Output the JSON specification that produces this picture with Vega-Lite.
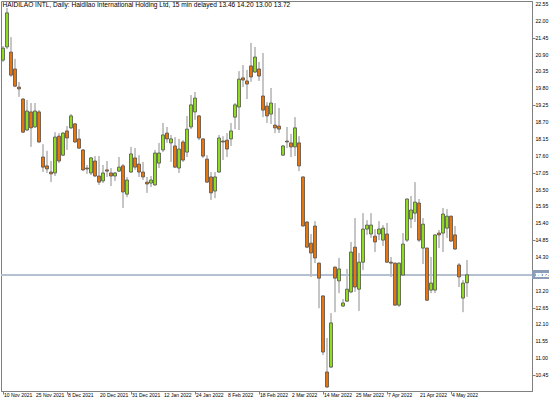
{
  "$schema": "https://vega.github.io/schema/vega-lite/v6.json",
  "width": 531,
  "height": 390,
  "padding": {"left": 0, "top": 1, "right": 0, "bottom": 0},
  "background": "#ffffff",
  "title": {"text": "HAIDILAO INTL, Daily:  Haidilao International Holding Ltd, 15 min delayed  13.46 14.20 13.00 13.72", "anchor": "start", "offset": -8, "fontSize": 6.6, "fontWeight": "normal", "font": "Liberation Sans", "color": "#000000", "dx": 2},
  "config": {
    "view": {"stroke": "#808080", "strokeWidth": 1},
    "axis": {"domainColor": "#808080", "tickColor": "#808080", "grid": false, "title": null, "labels": false}
  },
  "datasets": {
    "ohlc": [
    {"i":0,"o":20.72,"h":21.18,"l":20.66,"c":21.11},
    {"i":1,"o":21.15,"h":22.42,"l":21.08,"c":22.26},
    {"i":2,"o":20.98,"h":21.47,"l":20.17,"c":20.23},
    {"i":3,"o":20.43,"h":20.76,"l":19.84,"c":19.87},
    {"i":4,"o":19.84,"h":20.01,"l":19.52,"c":19.78},
    {"i":5,"o":19.45,"h":19.48,"l":18.34,"c":18.37},
    {"i":6,"o":18.44,"h":19.42,"l":18.41,"c":19.06},
    {"i":7,"o":19.03,"h":19.32,"l":17.89,"c":18.51},
    {"i":8,"o":18.54,"h":19.32,"l":18.51,"c":19.06},
    {"i":9,"o":19.03,"h":19.09,"l":18.02,"c":18.05},
    {"i":10,"o":17.56,"h":17.98,"l":17.07,"c":17.23},
    {"i":11,"o":17.27,"h":17.76,"l":17.04,"c":17.17},
    {"i":12,"o":17.07,"h":17.43,"l":16.74,"c":17.01},
    {"i":13,"o":17.04,"h":18.37,"l":16.94,"c":18.21},
    {"i":14,"o":18.24,"h":18.34,"l":17.36,"c":17.43},
    {"i":15,"o":17.62,"h":18.37,"l":17.59,"c":18.34},
    {"i":16,"o":18.41,"h":18.57,"l":17.79,"c":18.18},
    {"i":17,"o":18.51,"h":18.96,"l":18.47,"c":18.90},
    {"i":18,"o":18.64,"h":18.67,"l":18.02,"c":18.05},
    {"i":19,"o":18.15,"h":18.47,"l":17.82,"c":17.85},
    {"i":20,"o":17.79,"h":17.82,"l":17.10,"c":17.14},
    {"i":21,"o":17.20,"h":17.30,"l":17.01,"c":17.17},
    {"i":22,"o":17.04,"h":17.56,"l":16.97,"c":17.53},
    {"i":23,"o":17.43,"h":17.59,"l":16.91,"c":16.94},
    {"i":24,"o":16.94,"h":17.59,"l":16.65,"c":16.74},
    {"i":25,"o":16.78,"h":17.30,"l":16.71,"c":17.04},
    {"i":26,"o":17.14,"h":17.43,"l":16.91,"c":17.10},
    {"i":27,"o":17.04,"h":17.20,"l":16.61,"c":16.94},
    {"i":28,"o":16.94,"h":17.07,"l":16.78,"c":17.04},
    {"i":29,"o":17.10,"h":17.56,"l":17.07,"c":17.23},
    {"i":30,"o":17.27,"h":17.33,"l":15.90,"c":16.42},
    {"i":31,"o":16.35,"h":16.91,"l":16.25,"c":16.81},
    {"i":32,"o":17.07,"h":17.89,"l":17.04,"c":17.66},
    {"i":33,"o":17.53,"h":17.85,"l":17.14,"c":17.23},
    {"i":34,"o":17.33,"h":17.62,"l":16.91,"c":17.07},
    {"i":35,"o":17.07,"h":17.40,"l":16.81,"c":16.91},
    {"i":36,"o":16.74,"h":16.91,"l":16.39,"c":16.68},
    {"i":37,"o":16.71,"h":16.94,"l":16.58,"c":16.81},
    {"i":38,"o":16.65,"h":17.79,"l":16.62,"c":17.69},
    {"i":39,"o":17.36,"h":18.02,"l":17.20,"c":17.69},
    {"i":40,"o":17.79,"h":18.67,"l":17.72,"c":18.28},
    {"i":41,"o":18.34,"h":18.54,"l":18.02,"c":18.15},
    {"i":42,"o":18.02,"h":18.28,"l":17.40,"c":18.15},
    {"i":43,"o":17.92,"h":18.21,"l":17.20,"c":17.23},
    {"i":44,"o":17.20,"h":18.15,"l":17.04,"c":17.82},
    {"i":45,"o":18.05,"h":18.11,"l":17.40,"c":17.46},
    {"i":46,"o":17.72,"h":18.90,"l":17.56,"c":18.47},
    {"i":47,"o":18.54,"h":19.58,"l":18.47,"c":19.26},
    {"i":48,"o":19.03,"h":19.68,"l":18.77,"c":19.48},
    {"i":49,"o":18.90,"h":18.93,"l":18.11,"c":18.18},
    {"i":50,"o":18.15,"h":18.18,"l":17.53,"c":17.59},
    {"i":51,"o":17.49,"h":17.62,"l":16.72,"c":16.74},
    {"i":52,"o":16.91,"h":17.07,"l":16.16,"c":16.39},
    {"i":53,"o":16.45,"h":17.07,"l":16.22,"c":16.91},
    {"i":54,"o":17.07,"h":18.28,"l":17.05,"c":18.18},
    {"i":55,"o":18.08,"h":18.24,"l":17.46,"c":18.05},
    {"i":56,"o":18.11,"h":18.34,"l":17.56,"c":17.82},
    {"i":57,"o":18.15,"h":18.67,"l":17.92,"c":18.41},
    {"i":58,"o":18.86,"h":19.32,"l":18.47,"c":19.26},
    {"i":59,"o":19.19,"h":20.36,"l":18.44,"c":20.10},
    {"i":60,"o":20.14,"h":20.56,"l":19.84,"c":20.07},
    {"i":61,"o":20.04,"h":20.40,"l":19.45,"c":19.94},
    {"i":62,"o":20.53,"h":21.28,"l":20.01,"c":20.17},
    {"i":63,"o":20.33,"h":21.15,"l":20.30,"c":20.82},
    {"i":64,"o":20.43,"h":20.66,"l":20.04,"c":20.20},
    {"i":65,"o":19.55,"h":20.95,"l":18.86,"c":19.09},
    {"i":66,"o":19.22,"h":19.35,"l":18.67,"c":18.90},
    {"i":67,"o":18.96,"h":19.81,"l":18.64,"c":19.32},
    {"i":68,"o":18.60,"h":19.32,"l":18.34,"c":18.51},
    {"i":69,"o":18.57,"h":19.16,"l":18.34,"c":18.47},
    {"i":70,"o":17.62,"h":17.95,"l":17.60,"c":17.92},
    {"i":71,"o":18.08,"h":18.54,"l":17.85,"c":18.05},
    {"i":72,"o":18.02,"h":18.31,"l":17.56,"c":17.89},
    {"i":73,"o":17.89,"h":18.86,"l":17.59,"c":18.51},
    {"i":74,"o":18.02,"h":18.24,"l":17.10,"c":17.27},
    {"i":75,"o":16.91,"h":16.93,"l":15.29,"c":15.31},
    {"i":76,"o":15.44,"h":15.47,"l":14.59,"c":14.62},
    {"i":77,"o":14.75,"h":15.05,"l":13.65,"c":14.43},
    {"i":78,"o":15.31,"h":15.47,"l":14.10,"c":14.27},
    {"i":79,"o":14.10,"h":14.12,"l":12.63,"c":13.61},
    {"i":80,"o":13.03,"h":13.05,"l":11.10,"c":11.20},
    {"i":81,"o":10.55,"h":11.66,"l":10.03,"c":10.06},
    {"i":82,"o":10.71,"h":12.47,"l":10.68,"c":12.15},
    {"i":83,"o":13.97,"h":13.99,"l":12.50,"c":13.61},
    {"i":84,"o":13.52,"h":14.27,"l":13.12,"c":13.91},
    {"i":85,"o":12.70,"h":12.93,"l":12.67,"c":12.80},
    {"i":86,"o":12.86,"h":13.91,"l":12.84,"c":13.25},
    {"i":87,"o":13.16,"h":14.79,"l":13.12,"c":14.46},
    {"i":88,"o":14.62,"h":15.57,"l":13.16,"c":13.32},
    {"i":89,"o":13.25,"h":14.43,"l":12.54,"c":14.13},
    {"i":90,"o":14.13,"h":15.73,"l":13.87,"c":15.21},
    {"i":91,"o":15.21,"h":15.50,"l":15.02,"c":15.34},
    {"i":92,"o":15.05,"h":15.73,"l":14.92,"c":15.34},
    {"i":93,"o":14.98,"h":15.21,"l":14.46,"c":14.79},
    {"i":94,"o":15.05,"h":15.47,"l":14.85,"c":15.21},
    {"i":95,"o":14.85,"h":15.34,"l":14.66,"c":15.24},
    {"i":96,"o":15.05,"h":15.41,"l":14.11,"c":14.13},
    {"i":97,"o":14.13,"h":14.30,"l":13.65,"c":14.10},
    {"i":98,"o":14.10,"h":14.12,"l":12.71,"c":12.73},
    {"i":99,"o":12.73,"h":14.12,"l":12.67,"c":14.10},
    {"i":100,"o":13.71,"h":15.08,"l":13.69,"c":14.72},
    {"i":101,"o":14.85,"h":16.21,"l":14.79,"c":16.19},
    {"i":102,"o":15.54,"h":16.29,"l":15.24,"c":15.83},
    {"i":103,"o":15.73,"h":16.74,"l":15.44,"c":16.09},
    {"i":104,"o":16.06,"h":16.19,"l":14.79,"c":14.85},
    {"i":105,"o":14.59,"h":15.57,"l":14.07,"c":15.37},
    {"i":106,"o":14.59,"h":14.61,"l":12.87,"c":12.89},
    {"i":107,"o":13.22,"h":14.30,"l":13.12,"c":13.45},
    {"i":108,"o":13.22,"h":15.04,"l":13.12,"c":15.02},
    {"i":109,"o":15.08,"h":15.18,"l":14.59,"c":15.02},
    {"i":110,"o":15.08,"h":15.90,"l":14.46,"c":15.70},
    {"i":111,"o":15.24,"h":15.86,"l":14.92,"c":15.63},
    {"i":112,"o":15.63,"h":15.65,"l":14.79,"c":14.82},
    {"i":113,"o":15.02,"h":15.31,"l":14.53,"c":14.56},
    {"i":114,"o":14.04,"h":14.10,"l":13.32,"c":13.65},
    {"i":115,"o":12.96,"h":13.55,"l":12.50,"c":13.45},
    {"i":116,"o":13.46,"h":14.20,"l":13.00,"c":13.72}
    ],
    "xlabels": [
      {"i":0,"d":"10 Nov 2021"},{"i":8,"d":"25 Nov 2021"},{"i":16,"d":"8 Dec 2021"},{"i":24,"d":"20 Dec 2021"},
      {"i":32,"d":"31 Dec 2021"},{"i":40,"d":"12 Jan 2022"},{"i":48,"d":"24 Jan 2022"},{"i":56,"d":"8 Feb 2022"},
      {"i":64,"d":"18 Feb 2022"},{"i":72,"d":"2 Mar 2022"},{"i":80,"d":"14 Mar 2022"},{"i":88,"d":"25 Mar 2022"},
      {"i":96,"d":"7 Apr 2022"},{"i":104,"d":"21 Apr 2022"},{"i":112,"d":"4 May 2022"}
    ],
    "ylabels": [
      {"v":22.55},{"v":22.0},{"v":21.45},{"v":20.9},{"v":20.35},{"v":19.8},{"v":19.25},{"v":18.7},{"v":18.15},{"v":17.6},{"v":17.05},
      {"v":16.5},{"v":15.95},{"v":15.4},{"v":14.85},{"v":14.3},{"v":13.2},{"v":12.65},{"v":12.1},{"v":11.55},{"v":11.0},{"v":10.45}
    ]
  },
  "data": {"name": "ohlc"},
  "layer": [
    {
      "mark": {"type": "rule", "color": "#8c8c8c", "strokeWidth": 1},
      "encoding": {
        "x": {"field": "i", "type": "quantitative",
          "scale": {"domain": [-0.5, 132.25], "nice": false, "zero": false, "padding": 0},
          "axis": {"orient": "bottom", "values": [0,8,16,24,32,40,48,56,64,72,80,88,96,104,112], "tickSize": 3, "labels": false}},
        "y": {"field": "l", "type": "quantitative",
          "scale": {"domain": [9.93, 22.647], "nice": false, "zero": false, "padding": 0},
          "axis": {"orient": "right", "values": [22.55,22.0,21.45,20.9,20.35,19.8,19.25,18.7,18.15,17.6,17.05,16.5,15.95,15.4,14.85,14.3,13.75,13.2,12.65,12.1,11.55,11.0,10.45], "tickSize": 3, "labels": false}},
        "y2": {"field": "h"}
      }
    },
    {
      "mark": {"type": "rule", "color": "#b4c0d0", "strokeWidth": 1},
      "encoding": {"y": {"datum": 13.72, "type": "quantitative"}}
    },
    {
      "mark": {"type": "bar", "size": 3, "stroke": "#505050", "strokeWidth": 0.8},
      "encoding": {
        "x": {"field": "i", "type": "quantitative"},
        "y": {"field": "o", "type": "quantitative"},
        "y2": {"field": "c"},
        "fill": {"condition": {"test": "datum.c >= datum.o", "value": "#8fdc1e"}, "value": "#e8740c"}
      }
    },
    {
      "data": {"name": "xlabels"},
      "mark": {"type": "text", "font": "Liberation Sans", "fontSize": 5, "color": "#000000", "align": "left", "baseline": "top", "dx": 1, "dy": 2},
      "encoding": {
        "x": {"field": "i", "type": "quantitative"},
        "y": {"datum": 9.93, "type": "quantitative"},
        "text": {"field": "d"}
      }
    },
    {
      "data": {"name": "ylabels"},
      "mark": {"type": "text", "font": "Liberation Sans", "fontSize": 5.2, "color": "#000000", "align": "left", "baseline": "middle"},
      "encoding": {
        "x": {"datum": 133.1, "type": "quantitative"},
        "y": {"field": "v", "type": "quantitative"},
        "text": {"field": "v", "format": ".2f"}
      }
    },
    {
      "mark": {"type": "rect", "color": "#8d9db8", "opacity": 1},
      "encoding": {
        "x": {"datum": 132.3, "type": "quantitative"},
        "x2": {"datum": 136.4},
        "y": {"datum": 13.585, "type": "quantitative"},
        "y2": {"datum": 13.855}
      }
    },
    {
      "mark": {"type": "text", "font": "Liberation Sans", "fontSize": 5.2, "color": "#ffffff", "align": "left", "baseline": "middle"},
      "encoding": {
        "x": {"datum": 133.1, "type": "quantitative"},
        "y": {"datum": 13.72, "type": "quantitative"},
        "text": {"value": "13.72"}
      }
    }
  ]
}
